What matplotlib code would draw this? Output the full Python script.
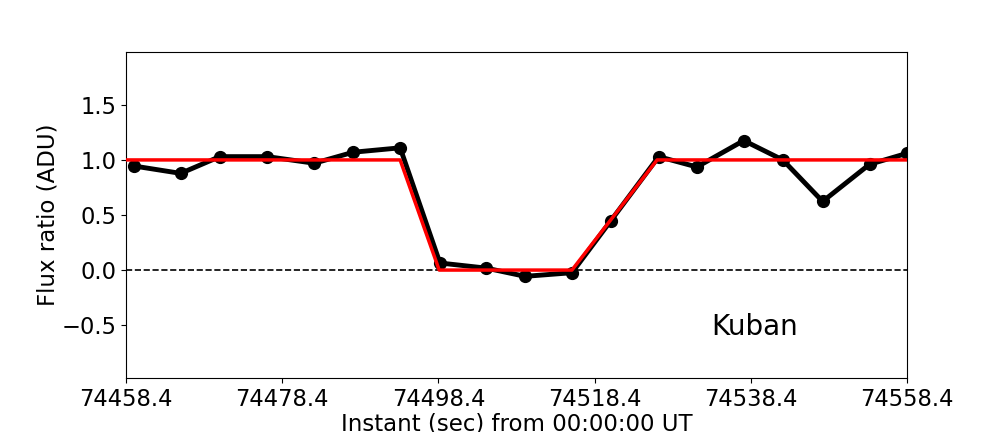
import matplotlib
matplotlib.use("Agg")
import matplotlib.pyplot as plt

# observed points (seconds from 00:00:00 UT)
t_obs = [74459.4, 74465.4, 74470.4, 74476.5, 74482.5, 74487.5, 74493.5,
         74498.6, 74504.5, 74509.5, 74515.5, 74520.5, 74526.6, 74531.5,
         74537.5, 74542.5, 74547.6, 74553.6, 74558.4]
flux_obs = [0.945, 0.878, 1.03, 1.03, 0.97, 1.07, 1.11,
            0.064, 0.018, -0.057, -0.024, 0.45, 1.03, 0.936,
            1.176, 1.0, 0.623, 0.96, 1.06]

# square-well model
t_model = [74458.4, 74493.5, 74498.5, 74515.5, 74526.4, 74558.4]
flux_model = [1.0, 1.0, 0.0, 0.0, 1.0, 1.0]

xticks = [74458.4, 74478.4, 74498.4, 74518.4, 74538.4, 74558.4]
yticks = [-0.5, 0.0, 0.5, 1.0, 1.5]

fig = plt.figure(figsize=(10.08, 4.32), dpi=100)
ax = fig.add_axes([126 / 1008, 1 - 378 / 432, 781 / 1008, 326 / 432])

ax.plot(t_obs, flux_obs, 'k-', lw=3.5, marker='o', ms=8.5, zorder=2)
ax.plot(t_model, flux_model, 'r-', lw=2.5, zorder=3)
ax.axhline(0.0, color='k', ls='--', lw=1.2, zorder=1)

ax.text(74538.9, -0.52, 'Kuban', fontsize=20, ha='center', va='center')

ax.set_xlim(74458.4, 74558.4)
ax.set_ylim(-0.98, 1.98)
ax.set_xticks(xticks)
ax.set_xticklabels([f'{v:.1f}' for v in xticks])
ax.set_yticks(yticks)
ax.tick_params(labelsize=16.3)
ax.set_xlabel('Instant (sec) from 00:00:00 UT', fontsize=16.5, labelpad=1)
ax.set_ylabel('Flux ratio (ADU)', fontsize=16.5, labelpad=1)

fig.savefig('out.png', dpi=100)
